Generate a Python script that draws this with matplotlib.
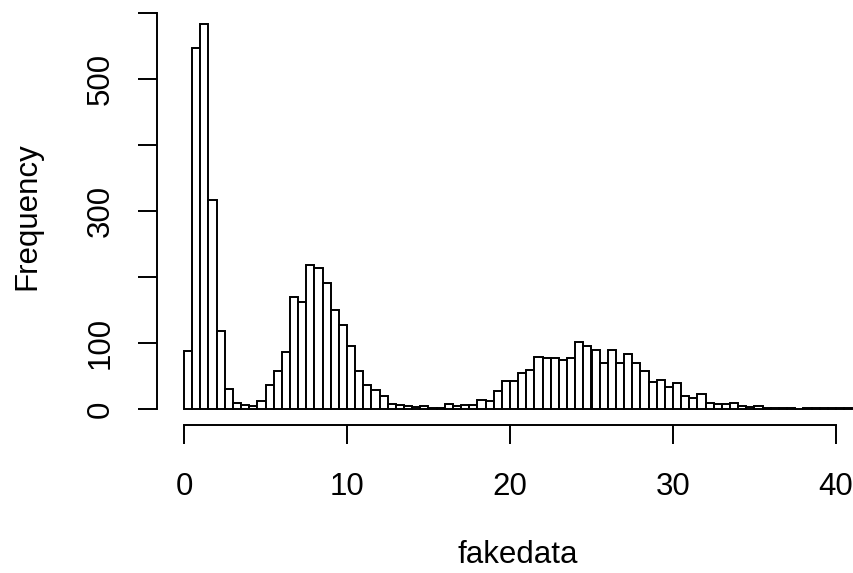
import numpy as np
import matplotlib.pyplot as plt

plt.rcParams['font.family'] = ['Liberation Sans', 'DejaVu Sans']

# histogram of fakedata, bin width 0.5 from 0 to 41
bin_width = 0.5
counts = [88, 547, 583, 316, 118, 30, 9, 6, 4, 12,
          37, 57, 86, 169, 162, 218, 213, 191, 150, 127,
          95, 58, 36, 29, 20, 8, 6, 4, 3, 5,
          2, 1, 7, 4, 6, 6, 14, 12, 27, 42,
          43, 55, 59, 79, 78, 77, 75, 78, 101, 96,
          90, 70, 89, 69, 84, 69, 57, 41, 44, 34,
          39, 20, 17, 22, 9, 8, 7, 9, 5, 3,
          4, 1, 1, 1, 1, 0, 1, 1, 1, 1,
          2, 1]
x_ticks = [0, 10, 20, 30, 40]
y_ticks = [0, 100, 200, 300, 400, 500, 600]
y_labels = ['0', '100', '', '300', '', '500', '']

W, H = 854, 573
fig = plt.figure(figsize=(W / 100, H / 100), dpi=100)
# axes box: left edge at x=157 px, bottom at y=425 px, top at y=8 px
ax = fig.add_axes([157 / W, 1 - 425 / H, (W - 157) / W, (425 - 8) / H])

edges = np.arange(len(counts)) * bin_width
ax.bar(edges, counts, width=bin_width, align='edge',
       facecolor='white', edgecolor='black', linewidth=1.4)

ax.set_xlim((157 - 184) / 16.3, (W - 184) / 16.3)
ax.set_ylim((409 - 425) / 0.66, (409 - 8) / 0.66)

for s in ['top', 'right']:
    ax.spines[s].set_visible(False)
ax.spines['left'].set_bounds(0, 600)
ax.spines['bottom'].set_bounds(0, 40)
ax.spines['left'].set_linewidth(1.4)
ax.spines['bottom'].set_linewidth(1.4)

ax.set_xticks(x_ticks)
ax.set_yticks(y_ticks)
ax.set_yticklabels(y_labels, rotation=90, va='center')
ax.tick_params(length=13.7, width=1.4, labelsize=22.5)
ax.tick_params(axis='x', pad=20)
ax.tick_params(axis='y', pad=16)

fig.text(27 / W, 1 - 216 / H, 'Frequency', rotation=90,
         ha='center', va='center', fontsize=22.5)
fig.text(518 / W, 1 - 555 / H, 'fakedata',
         ha='center', va='center', fontsize=22.5)

fig.savefig('out.png', dpi=100)
